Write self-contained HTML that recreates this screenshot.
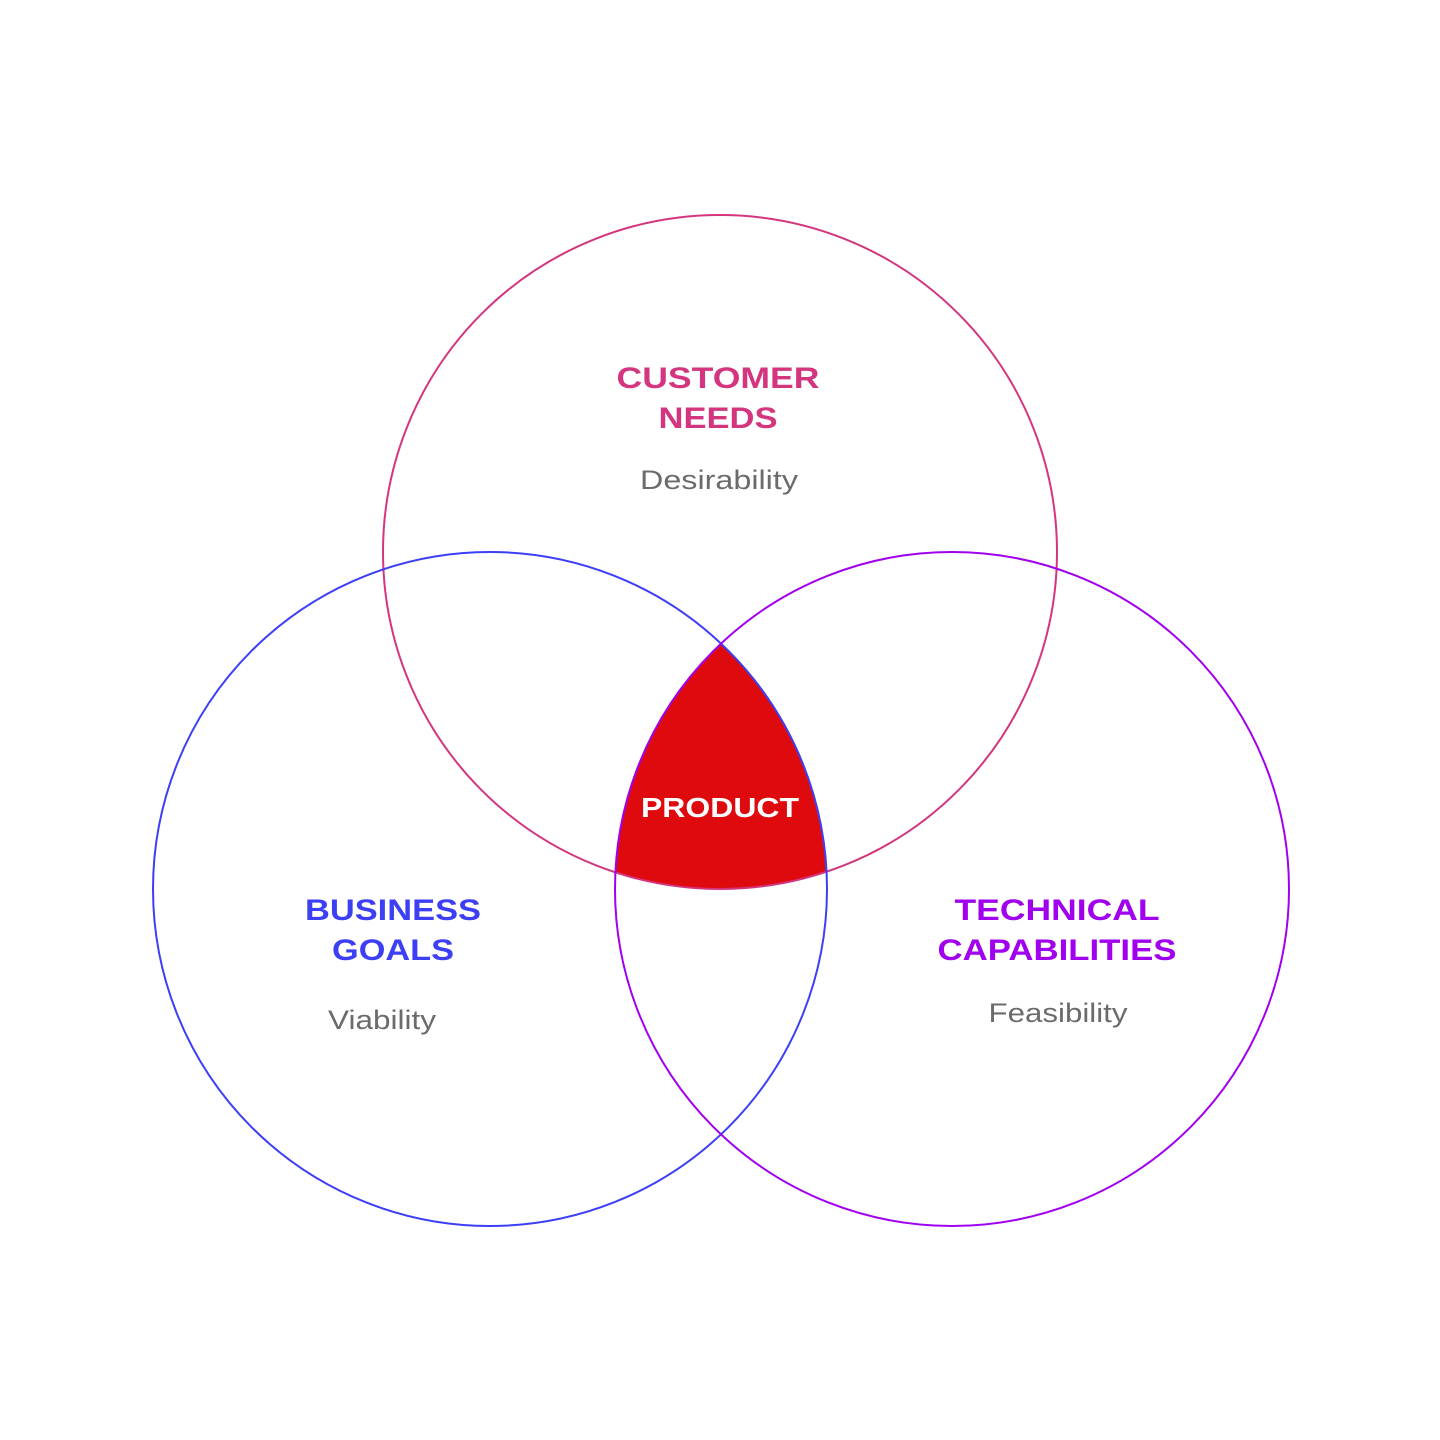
<!DOCTYPE html>
<html><head><meta charset="utf-8"><style>
html,body{margin:0;padding:0;background:#fff;}
svg{display:block;}
text{font-family:"Liberation Sans",sans-serif;}
</style></head><body>
<svg width="1440" height="1440" viewBox="0 0 1440 1440" xmlns="http://www.w3.org/2000/svg">
<defs>
<clipPath id="cL"><circle cx="490" cy="889" r="337"/></clipPath>
<clipPath id="cR"><circle cx="952" cy="889" r="337"/></clipPath>
</defs>
<rect width="1440" height="1440" fill="#fff"/>
<g clip-path="url(#cL)"><g clip-path="url(#cR)"><circle cx="720" cy="552" r="337" fill="#df0a0e"/></g></g>
<circle cx="720" cy="552" r="337" fill="none" stroke="#d4357f" stroke-width="2"/>
<circle cx="490" cy="889" r="337" fill="none" stroke="#3d3ff5" stroke-width="2"/>
<circle cx="952" cy="889" r="337" fill="none" stroke="#a100ef" stroke-width="2"/>
<g font-weight="bold" font-size="30" text-anchor="middle">
<text x="718" y="388" fill="#d4357f" textLength="203" lengthAdjust="spacingAndGlyphs">CUSTOMER</text>
<text x="718" y="428" fill="#d4357f" textLength="119" lengthAdjust="spacingAndGlyphs">NEEDS</text>
<text x="393" y="920" fill="#3d3ff5" textLength="176" lengthAdjust="spacingAndGlyphs">BUSINESS</text>
<text x="393" y="960" fill="#3d3ff5" textLength="122" lengthAdjust="spacingAndGlyphs">GOALS</text>
<text x="1057" y="920" fill="#a100ef" textLength="205" lengthAdjust="spacingAndGlyphs">TECHNICAL</text>
<text x="1057" y="960" fill="#a100ef" textLength="239" lengthAdjust="spacingAndGlyphs">CAPABILITIES</text>
<text x="720" y="817" fill="#fff" font-size="28" textLength="158" lengthAdjust="spacingAndGlyphs">PRODUCT</text>
</g>
<g font-size="27" fill="#6b6b6b" text-anchor="middle">
<text x="719" y="489" textLength="158" lengthAdjust="spacingAndGlyphs">Desirability</text>
<text x="382" y="1029" textLength="108" lengthAdjust="spacingAndGlyphs">Viability</text>
<text x="1058" y="1022" textLength="139" lengthAdjust="spacingAndGlyphs">Feasibility</text>
</g>
</svg>
</body></html>
